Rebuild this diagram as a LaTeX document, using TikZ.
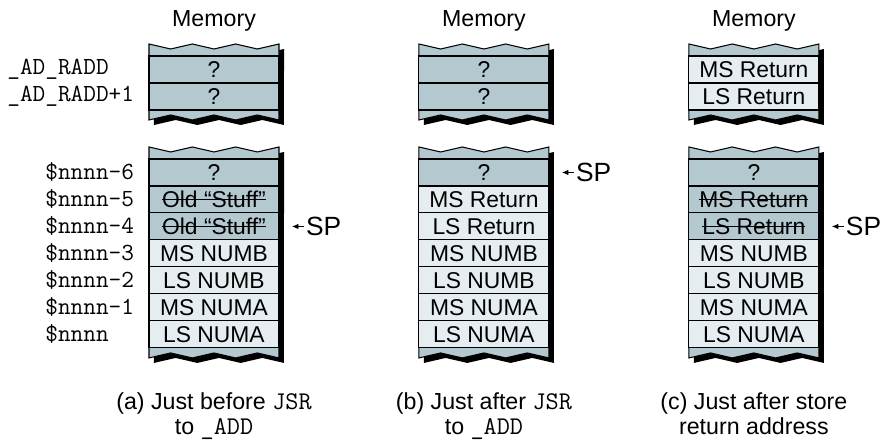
\documentclass[tikz,border=0pt]{standalone}
\usepackage{fontspec}
\setmainfont{Liberation Sans}
\usetikzlibrary{arrows.meta,positioning,calc,backgrounds}
\definecolor{CellDark}{RGB}{180,200,207}
\definecolor{CellLight}{RGB}{229,237,241}
\tikzset{
  cell/.style={draw=black,line width=0.6pt,minimum width=2.6cm,
    minimum height=0.54cm,inner sep=0pt,outer sep=0pt,
    font=\fontsize{13}{14}\selectfont},
  oldcell/.style={cell,fill=CellDark},
  newcell/.style={cell,fill=CellLight},
  addr/.style={anchor=west,inner sep=0pt,font=\ttfamily\fontsize{14}{15}\selectfont},
  memtitle/.style={inner sep=0pt,font=\fontsize{13.2}{15}\selectfont},
  caption/.style={align=center,inner sep=0pt,font=\fontsize{13.2}{14.2}\selectfont},
  sptext/.style={anchor=west,inner sep=1pt,font=\fontsize{15}{17}\selectfont},
  sparrow/.style={-{Latex[length=1.3mm,width=1.1mm]},line width=0.5pt},
  band/.style={fill=CellDark,draw=black,line width=0.6pt},
  shade/.style={fill=black},
}
\newcommand{\cmono}[1]{{\ttfamily\fontsize{14.5}{14.2}\selectfont #1}}
% crossed-out contents of a cell
\newsavebox{\strikebox}
\newcommand{\struck}[1]{\sbox\strikebox{#1}%
  \rlap{\rule[0.33em]{\wd\strikebox}{0.6pt}}\usebox\strikebox}
% torn edges of a memory strip
\newcommand{\zigtop}{-- ++(21.667,5) -- ++(21.667,-5) -- ++(21.667,5)
  -- ++(21.667,-5) -- ++(21.667,5) -- ++(21.667,-5)}
\newcommand{\zigbot}{-- ++(-21.667,-5) -- ++(-21.667,5) -- ++(-21.667,-5)
  -- ++(-21.667,5) -- ++(-21.667,-5) -- ++(-21.667,5)}
% strip behind the cells: #1 first cell, #2 last cell
\newcommand{\memstrip}[2]{%
  \begin{pgfonlayer}{background}
    \fill[shade] ($(#1.north west)+(5,-7)$) \zigtop
      -- ($(#2.south east)+(5,15)$) \zigbot -- cycle;
    \path[band] ($(#1.north west)+(0,-12)$) \zigtop
      -- ($(#2.south east)+(0,10)$) \zigbot -- cycle;
  \end{pgfonlayer}}

\begin{document}
\begin{tikzpicture}[x=0.02cm,y=-0.02cm]
  \useasboundingbox (0,0) rectangle (891,442);
  \coordinate (tagx) at (7,0);
  \coordinate (stackx) at (45,0);

  % (a) just before JSR
  \node[oldcell,anchor=north west] (at1) at (149,56) {?};
  \node[oldcell,below=0pt of at1] (at2) {?};
  \node[oldcell,below=0.98cm of at2] (a1) {?};
  \node[oldcell,below=0pt of a1] (a2) {\struck{Old “Stuff”}};
  \node[oldcell,below=0pt of a2] (a3) {\struck{Old “Stuff”}};
  \node[newcell,below=0pt of a3] (a4) {MS NUMB};
  \node[newcell,below=0pt of a4] (a5) {LS NUMB};
  \node[newcell,below=0pt of a5] (a6) {MS NUMA};
  \node[newcell,below=0pt of a6] (a7) {LS NUMA};
  \memstrip{at1}{at2}
  \memstrip{a1}{a7}
  \node[memtitle,above=0.48cm of at1] (mema) {Memory};
  \node[caption,below=0.88cm of a7] (capa)
    {(a) Just before \cmono{JSR}\\to \cmono{\_ADD}};

  % (b) just after JSR
  \node[oldcell,right=2.8cm of at1] (bt1) {?};
  \node[oldcell,below=0pt of bt1] (bt2) {?};
  \node[oldcell,right=2.8cm of a1] (b1) {?};
  \node[newcell,below=0pt of b1] (b2) {MS Return};
  \node[newcell,below=0pt of b2] (b3) {LS Return};
  \node[newcell,below=0pt of b3] (b4) {MS NUMB};
  \node[newcell,below=0pt of b4] (b5) {LS NUMB};
  \node[newcell,below=0pt of b5] (b6) {MS NUMA};
  \node[newcell,below=0pt of b6] (b7) {LS NUMA};
  \memstrip{bt1}{bt2}
  \memstrip{b1}{b7}
  \node[memtitle,above=0.48cm of bt1] (memb) {Memory};
  \node[caption,below=0.88cm of b7] (capb)
    {(b) Just after \cmono{JSR}\\to \cmono{\_ADD}};

  % (c) just after store return address
  \node[newcell,right=2.8cm of bt1] (ct1) {MS Return};
  \node[newcell,below=0pt of ct1] (ct2) {LS Return};
  \node[oldcell,right=2.8cm of b1] (c1) {?};
  \node[oldcell,below=0pt of c1] (c2) {\struck{MS Return}};
  \node[oldcell,below=0pt of c2] (c3) {\struck{LS Return}};
  \node[newcell,below=0pt of c3] (c4) {MS NUMB};
  \node[newcell,below=0pt of c4] (c5) {LS NUMB};
  \node[newcell,below=0pt of c5] (c6) {MS NUMA};
  \node[newcell,below=0pt of c6] (c7) {LS NUMA};
  \memstrip{ct1}{ct2}
  \memstrip{c1}{c7}
  \node[memtitle,above=0.48cm of ct1] (memc) {Memory};
  \node[caption,below=0.88cm of c7] (capc)
    {(c) Just after store\\return address};

  % addresses
  \node[addr] (tag1) at (tagx |- at1) {\_AD\_RADD};
  \node[addr] (tag2) at (tagx |- at2) {\_AD\_RADD+1};
  \node[addr] (addr1) at (stackx |- a1) {\$nnnn-6};
  \node[addr] (addr2) at (stackx |- a2) {\$nnnn-5};
  \node[addr] (addr3) at (stackx |- a3) {\$nnnn-4};
  \node[addr] (addr4) at (stackx |- a4) {\$nnnn-3};
  \node[addr] (addr5) at (stackx |- a5) {\$nnnn-2};
  \node[addr] (addr6) at (stackx |- a6) {\$nnnn-1};
  \node[addr] (addr7) at (stackx |- a7) {\$nnnn};

  % stack pointers
  \coordinate[right=0.26cm of a3] (spa-tip);
  \node[sptext,right=0.24cm of spa-tip] (spa) {SP};
  \draw[sparrow] (spa.west) -- (spa-tip);
  \coordinate[right=0.26cm of b1] (spb-tip);
  \node[sptext,right=0.24cm of spb-tip] (spb) {SP};
  \draw[sparrow] (spb.west) -- (spb-tip);
  \coordinate[right=0.26cm of c3] (spc-tip);
  \node[sptext,right=0.24cm of spc-tip] (spc) {SP};
  \draw[sparrow] (spc.west) -- (spc-tip);
\end{tikzpicture}
\end{document}
